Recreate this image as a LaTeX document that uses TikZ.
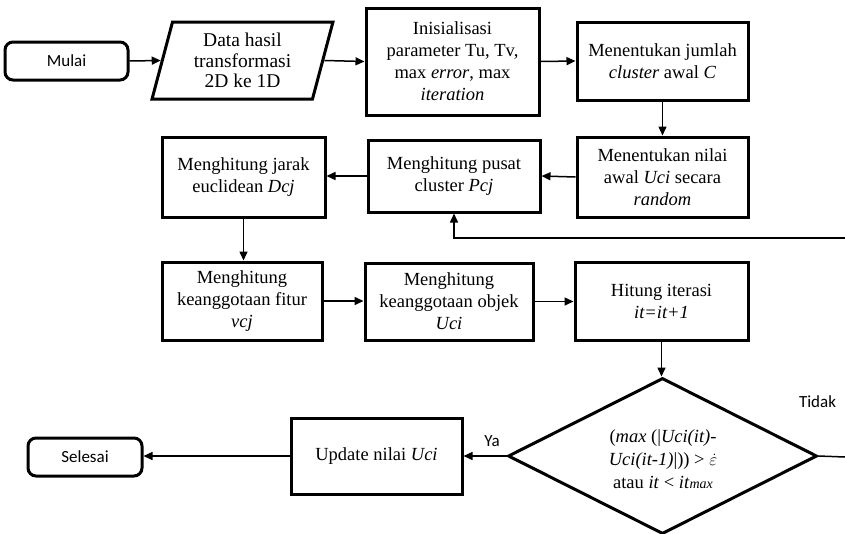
\documentclass[tikz,border=0pt]{standalone}
\usepackage{fontspec}
\setmainfont{Liberation Serif}
\newfontfamily\calib{Carlito}
\usetikzlibrary{shapes.geometric,arrows.meta}
\tikzset{
  box/.style={draw, line width=3pt, fill=white, align=center, inner sep=2pt,
    font=\fontsize{18.5}{22}\selectfont},
  term/.style={draw, line width=3pt, rounded corners=8pt, fill=white,
    font=\calib\fontsize{17}{20}\selectfont, minimum width=114pt, minimum height=38pt},
  lbl/.style={font=\calib\fontsize{17}{20}\selectfont, inner sep=0pt},
  conn/.style={line width=1.5pt, -{Triangle[length=9pt,width=8pt]}},
  plain/.style={line width=1.5pt}
}
\begin{document}
\begin{tikzpicture}[x=1pt,y=-1pt]
\useasboundingbox (0,0) rectangle (845,533);
% nodes
\node[term, minimum width=123pt] (mulai) at (66.5,61) {Mulai};
\node[box, trapezium, trapezium left angle=75.4, trapezium right angle=104.6,
      trapezium stretches=true, minimum width=181pt, minimum height=77pt, inner sep=0pt,
      font=\fontsize{19.5}{20.5}\selectfont] (data) at (242.5,60.5)
      {Data hasil\\transformasi\\2D ke 1D};
\node[box, minimum width=173pt, minimum height=107pt] (init) at (452.5,61.5)
      {Inisialisasi\\parameter Tu, Tv,\\max \textit{error}, max\\\textit{iteration}};
\node[box, minimum width=171pt, minimum height=78pt] (jumlah) at (662.5,61)
      {Menentukan jumlah\\\textit{cluster} awal \textit{C}};
\node[box, minimum width=171pt, minimum height=80pt] (nilai) at (662.5,177)
      {Menentukan nilai\\awal \textit{Uci} secara\\\textit{random}};
\node[box, minimum width=172pt, minimum height=72pt] (pusat) at (454,176)
      {Menghitung pusat\\cluster \textit{Pcj}};
\node[box, minimum width=163pt, minimum height=80pt] (jarak) at (243.5,177)
      {Menghitung jarak\\euclidean \textit{Dcj}};
\node[box, minimum width=160pt, minimum height=78pt] (fitur) at (242,301)
      {Menghitung\\keanggotaan fitur\\\textit{vcj}};
\node[box, minimum width=168pt, minimum height=77pt] (objek) at (449,301.5)
      {Menghitung\\keanggotaan objek\\\textit{Uci}};
\node[box, minimum width=173pt, minimum height=78pt] (hitung) at (661.5,301)
      {Hitung iterasi\\\textit{it=it+1}};
\node[draw, diamond, line width=3pt, fill=white, minimum width=309pt, minimum height=156pt,
      inner sep=0pt] (dec) at (662.5,456) {};
\node[align=center, font=\fontsize{18.5}{23}\selectfont, inner sep=0pt] (dect) at (663,459)
      {(\textit{max} (|\textit{Uci(it)-}\\\textit{Uci(it-1)}|)) > $\dot{\varepsilon}$\\atau \textit{it} < \textit{it}{\fontsize{14}{14}\selectfont\textit{max}}};
\node[box, minimum width=171pt, minimum height=76pt] (update) at (376.5,456)
      {Update nilai \textit{Uci}};
\node[term] (selesai) at (85,457) {Selesai};
\node[lbl] (ya) at (492,441) {Ya};
\node[lbl] (tidak) at (817.5,402) {Tidak};
\coordinate (rt1) at (845,457);
\coordinate (rt2) at (845,238);
% connectors
\draw[conn] (mulai.east) -- (data.west);
\draw[conn] (data.east) -- (init.west);
\draw[conn] (init.east) -- (jumlah.west);
\draw[conn] (jumlah.south) -- (nilai.north);
\draw[conn] (nilai.west) -- (pusat.east);
\draw[conn] (pusat.west) -- (jarak.east |- pusat.west);
\draw[conn] (jarak.south) -- (jarak.south |- fitur.north);
\draw[conn] (fitur.east) -- (objek.west |- fitur.east);
\draw[conn] (objek.east) -- (hitung.west |- objek.east);
\draw[conn] (hitung.south) -- (hitung.south |- dec.north);
\draw[conn] (dec.west) -- (update.east |- dec.west);
\draw[conn] (update.west) -- (selesai.east |- update.west);
\draw[plain] (dec.east) -- (rt1);
\draw[conn] (rt2) -| (pusat.south);
\end{tikzpicture}
\end{document}
